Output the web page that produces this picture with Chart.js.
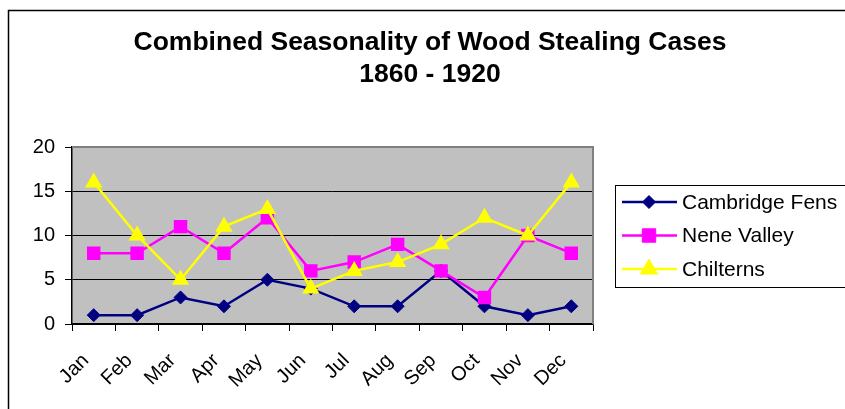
<!DOCTYPE html>
<html lang="en">
<head>
    <meta charset="UTF-8">
    <title>Combined Seasonality of Wood Stealing Cases</title>
    <script src="https://cdn.jsdelivr.net/npm/chart.js"></script>
    <style>
        body { margin: 0; background: #fff; }
    </style>
</head>
<body>
    <canvas id="woodChart" width="845" height="409"></canvas>

    <script>
        // data
        const months = ['Jan', 'Feb', 'Mar', 'Apr', 'May', 'Jun', 'Jul', 'Aug', 'Sep', 'Oct', 'Nov', 'Dec'];
        const cambridgeFens = [1, 1, 3, 2, 5, 4, 2, 2, 6, 2, 1, 2];
        const neneValley = [8, 8, 11, 8, 12, 6, 7, 9, 6, 3, 10, 8];
        const chilterns = [16, 10, 5, 11, 13, 4, 6, 7, 9, 12, 10, 16];
        const titleLines = ['Combined Seasonality of Wood Stealing Cases', '1860 - 1920'];

        const FONT = 'Arial, "Liberation Sans", sans-serif';

        // frame, plot background, title and boxed legend (Excel look)
        const excelLook = {
            id: 'excelLook',
            beforeDraw(chart) {
                const ctx = chart.ctx, a = chart.chartArea;
                ctx.save();
                ctx.fillStyle = '#fff';
                ctx.fillRect(0, 0, chart.width, chart.height);
                ctx.strokeStyle = '#000';
                ctx.lineWidth = 1.5;
                ctx.beginPath();
                ctx.moveTo(8.5, chart.height);
                ctx.lineTo(8.5, 10.5);
                ctx.lineTo(chart.width, 10.5);
                ctx.stroke();
                ctx.fillStyle = '#c0c0c0';
                ctx.fillRect(a.left, a.top, a.right - a.left, a.bottom - a.top);
                ctx.restore();
            },
            beforeDatasetsDraw(chart) {
                const ctx = chart.ctx, a = chart.chartArea;
                ctx.save();
                ctx.strokeStyle = '#808080';
                ctx.lineWidth = 2;
                ctx.beginPath();
                ctx.moveTo(a.left, a.top);
                ctx.lineTo(a.right, a.top);
                ctx.lineTo(a.right, a.bottom);
                ctx.stroke();
                ctx.restore();
            },
            afterDraw(chart) {
                const ctx = chart.ctx;
                ctx.save();
                // title
                ctx.fillStyle = '#000';
                ctx.font = 'bold 26.5px ' + FONT;
                ctx.textAlign = 'center';
                ctx.textBaseline = 'middle';
                ctx.fillText(titleLines[0], 430, 43);
                ctx.fillText(titleLines[1], 430, 75);

                // legend
                ctx.strokeStyle = '#000';
                ctx.lineWidth = 1;
                ctx.strokeRect(615.5, 185.5, 260, 102);
                ctx.font = '21px ' + FONT;
                ctx.textAlign = 'left';
                chart.data.datasets.forEach((ds, i) => {
                    const y = 202 + i * 33.5;
                    ctx.strokeStyle = ds.borderColor;
                    ctx.lineWidth = ds.borderWidth;
                    ctx.beginPath();
                    ctx.moveTo(622, y);
                    ctx.lineTo(677, y);
                    ctx.stroke();
                    ctx.fillStyle = ds.pointBackgroundColor;
                    ctx.strokeStyle = ds.pointBackgroundColor;
                    ctx.lineWidth = 1;
                    Chart.helpers.drawPoint(ctx, {
                        pointStyle: ds.pointStyle,
                        radius: ds.pointRadius,
                        rotation: 0,
                        borderWidth: 1
                    }, 649, y);
                    ctx.fillStyle = '#000';
                    ctx.fillText(ds.label, 682, y + 1);
                });
                ctx.restore();
            }
        };

        const ctx = document.getElementById('woodChart').getContext('2d');
        new Chart(ctx, {
            type: 'line',
            data: {
                labels: months,
                datasets: [{
                    label: 'Cambridge Fens',
                    data: cambridgeFens,
                    borderColor: '#000080',
                    backgroundColor: '#000080',
                    pointBackgroundColor: '#000080',
                    pointBorderColor: '#000080',
                    borderWidth: 2.5,
                    pointStyle: 'rectRot',
                    pointRadius: 6.5,
                    pointBorderWidth: 1,
                    order: 3
                }, {
                    label: 'Nene Valley',
                    data: neneValley,
                    borderColor: '#ff00ff',
                    backgroundColor: '#ff00ff',
                    pointBackgroundColor: '#ff00ff',
                    pointBorderColor: '#ff00ff',
                    borderWidth: 2.5,
                    pointStyle: 'rect',
                    pointRadius: 9.5,
                    pointBorderWidth: 0,
                    order: 2
                }, {
                    label: 'Chilterns',
                    data: chilterns,
                    borderColor: '#ffff00',
                    backgroundColor: '#ffff00',
                    pointBackgroundColor: '#ffff00',
                    pointBorderColor: '#ffff00',
                    borderWidth: 2.5,
                    pointStyle: 'triangle',
                    pointRadius: 10,
                    pointBorderWidth: 0,
                    order: 1
                }]
            },
            options: {
                responsive: false,
                animation: false,
                layout: {
                    padding: { left: 0, top: 147, right: 252, bottom: 0 }
                },
                plugins: {
                    legend: { display: false },
                    title: { display: false },
                    tooltip: { enabled: false }
                },
                scales: {
                    x: {
                        offset: true,
                        afterFit(scale) { scale.height = 85; },
                        grid: {
                            offset: true,
                            drawOnChartArea: false,
                            tickLength: 7,
                            tickColor: '#000',
                            lineWidth: 1
                        },
                        border: { color: '#000', width: 1.5 },
                        ticks: {
                            color: '#000',
                            font: { family: FONT, size: 20 },
                            minRotation: 45,
                            maxRotation: 45,
                            padding: 18,
                            labelOffset: -8
                        }
                    },
                    y: {
                        min: 0,
                        max: 20,
                        afterFit(scale) { scale.width = 72; },
                        grid: {
                            color: (c) => c.tick && c.tick.value === 20 ? '#808080' : '#000',
                            tickColor: '#000',
                            tickLength: 7,
                            lineWidth: 1
                        },
                        border: { color: '#000', width: 1.5 },
                        ticks: {
                            stepSize: 5,
                            color: '#000',
                            font: { family: FONT, size: 20 },
                            padding: 10
                        }
                    }
                }
            },
            plugins: [excelLook]
        });
    </script>
</body>
</html>
